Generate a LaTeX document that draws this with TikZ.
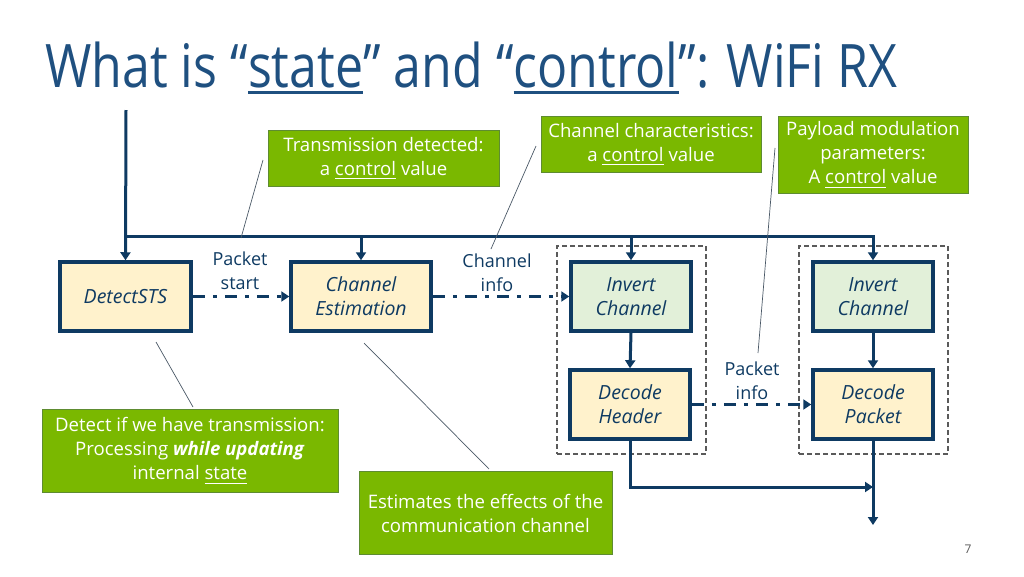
\documentclass[tikz,border=0pt]{standalone}
\usepackage{fontspec}
\setmainfont{Open Sans}
\usetikzlibrary{arrows.meta}
\newsavebox\ulbox
\newcommand\myul[3]{\sbox\ulbox{#3}\rlap{\rule[-#1]{\wd\ulbox}{#2}}\usebox\ulbox}
\definecolor{navy}{HTML}{0E3A62}
\definecolor{titlec}{HTML}{1F5080}
\definecolor{greenF}{HTML}{7AB800}
\definecolor{greenB}{HTML}{5E8C31}
\definecolor{cream}{HTML}{FFF2CC}
\definecolor{lgreen}{HTML}{E2F0D9}
\definecolor{grpc}{HTML}{5A5A5A}
\definecolor{leadc}{HTML}{4A5866}
\begin{document}
\begin{tikzpicture}[x=1pt,y=-1pt,
  blk/.style={draw=navy, line width=3.5pt, minimum width=131, minimum height=69, inner sep=0,
    font=\fontsize{19.5}{24}\selectfont\itshape, text=navy, align=center},
  note/.style={draw=greenB, line width=1pt, fill=greenF, text=white, inner sep=0,
    font=\fontsize{18.6}{24}\selectfont, align=center},
  lbl/.style={text=navy, font=\fontsize{18}{24}\selectfont, align=center, inner sep=0},
  bus/.style={draw=navy, line width=3pt},
  arr/.style={bus, -{Triangle[length=8pt,width=10pt]}},
  dd/.style={draw=navy, line width=3pt, dash pattern=on 12pt off 8pt on 4pt off 8pt,
    -{Triangle[length=8pt,width=10pt]}},
  grp/.style={draw=grpc, line width=1.2pt, dash pattern=on 5pt off 3pt, minimum width=149, minimum height=208},
  lead/.style={draw=leadc, line width=0.7pt}]
\useasboundingbox (0,0) rectangle (1024,576);

% title
\node[anchor=base west, text=titlec, inner sep=0] (title) at (45,87)
  {\scalebox{0.835}[1]{\fontsize{60}{70}\selectfont What is “\myul{7pt}{2.8pt}{state}” and “\myul{7pt}{2.8pt}{control}”: WiFi RX}};

% groups
\node[grp] (g1) at (631.5,350) {};
\node[grp] (g2) at (873.5,350) {};

% blocks
\node[blk, fill=cream, minimum width=131] (dsts) at (125.5,296.5) {DetectSTS};
\node[blk, fill=cream, minimum width=140] (ce) at (361,296.5) {Channel\\Estimation};
\node[blk, fill=lgreen, minimum width=120] (ic1) at (631,296.5) {Invert\\Channel};
\node[blk, fill=cream, minimum width=120] (dh) at (630,404.5) {Decode\\Header};
\node[blk, fill=lgreen, minimum width=120] (ic2) at (873,296.5) {Invert\\Channel};
\node[blk, fill=cream, minimum width=120] (dp) at (873,404.5) {Decode\\Packet};

% bus
\coordinate (top) at (126,110);
\coordinate (busL) at (126,236);
\draw[arr] (top) -- (dsts.north);
\draw[arr] (busL) -| (ic2.north);
\draw[arr] (ce.north |- busL) -- (ce.north);
\draw[arr] (ic1.north |- busL) -- (ic1.north);

% data flow
\draw[dd] (dsts.east) -- (ce.west);
\draw[dd] (ce.east) -- (ic1.west);
\draw[dd] (dh.east) -- (dp.west);
\draw[arr] (ic1.south) -- (dh.north);
\draw[arr] (ic2.south) -- (dp.north);
\coordinate (join) at (873,487);
\coordinate (out) at (873,525);
\draw[arr] (dh.south) |- (join);
\draw[arr] (dp.south) -- (out);

% labels
\node[lbl] (lps) at (240,271) {Packet\\start};
\node[lbl] (lci) at (497,273) {Channel\\info};
\node[lbl] (lpi) at (752,381) {Packet\\info};

% callouts
\node[note, minimum width=231, minimum height=56] (n1) at (383.5,158)
  {Transmission detected:\\a \myul{4pt}{1pt}{control} value};
\node[note, minimum width=220, minimum height=56] (n2) at (651,144)
  {Channel characteristics:\\a \myul{4pt}{1pt}{control} value};
\node[note, minimum width=190, minimum height=77] (n3) at (873,154.5)
  {Payload modulation\\parameters:\\A \myul{4pt}{1pt}{control} value};
\node[note, minimum width=296, minimum height=83] (n4) at (190,450.5)
  {Detect if we have transmission:\\Processing \textbf{\textit{while updating}}\\internal \myul{4pt}{1pt}{state}};
\node[note, minimum width=253, minimum height=83] (n5) at (485.5,513)
  {Estimates the effects of the\\communication channel};

% leader lines
\coordinate (a1) at (263,160); \coordinate (b1) at (241,238);
\coordinate (a2) at (536,146); \coordinate (b2) at (491,249);
\coordinate (a3) at (775,148); \coordinate (b3) at (758,353);
\coordinate (a4) at (156,342); \coordinate (b4) at (193,407);
\coordinate (a5) at (364,343); \coordinate (b5) at (489,469);
\draw[lead] (a1) -- (b1);
\draw[lead] (a2) -- (b2);
\draw[lead] (a3) -- (b3);
\draw[lead] (a4) -- (b4);
\draw[lead] (a5) -- (b5);

% page number
\node[text=grpc, font=\fontsize{12}{14}\selectfont] (pg) at (968,549) {7};
\end{tikzpicture}
\end{document}
